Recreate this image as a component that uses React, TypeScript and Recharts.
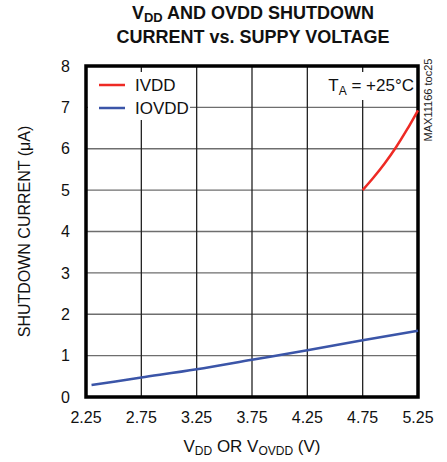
import React from "react";
import {
  LineChart,
  Line,
  XAxis,
  YAxis,
  CartesianGrid,
  ReferenceArea,
  Legend,
  Label,
} from "recharts";

// supply voltage (V) and shutdown current (uA)
const ivddVolts = [4.75, 4.85, 4.95, 5.05, 5.15, 5.25];
const ivddCurrent = [5.0, 5.31, 5.65, 6.03, 6.46, 6.93];

const iovddVolts = [2.3, 2.75, 3.25, 3.75, 4.25, 4.75, 5.25];
const iovddCurrent = [0.29, 0.47, 0.67, 0.9, 1.13, 1.37, 1.6];

const xTicks = [2.25, 2.75, 3.25, 3.75, 4.25, 4.75, 5.25];
const yTicks = [0, 1, 2, 3, 4, 5, 6, 7, 8];

const FONT = "'Liberation Sans', Arial, sans-serif";
const RED = "#ee2a24";
const BLUE = "#3b55a8";

const ivddData = ivddVolts.map((v, i) => ({ v, i: ivddCurrent[i] }));
const iovddData = iovddVolts.map((v, i) => ({ v, i: iovddCurrent[i] }));

const TICK = { fill: "#111", fontSize: 16, fontFamily: FONT };

function LegendBox() {
  const rows = [
    { name: "IVDD", color: RED },
    { name: "IOVDD", color: BLUE },
  ];
  return (
    <svg width={102} height={48}>
      {rows.map((r, k) => (
        <g key={r.name}>
          <line x1={11} x2={37} y1={13 + k * 23} y2={13 + k * 23} stroke={r.color} strokeWidth={2.5} />
          <text x={47} y={19 + k * 23} fontSize={17} fontFamily={FONT} fill="#111">
            {r.name}
          </text>
        </g>
      ))}
    </svg>
  );
}

function XLabel({ viewBox }: any) {
  const cx = viewBox.x + viewBox.width / 2;
  return (
    <text x={cx} y={452} textAnchor="middle" fontSize={17} fontFamily={FONT} fill="#111">
      V<tspan fontSize={12} dy={3}>DD</tspan>
      <tspan dy={-3}> OR V</tspan>
      <tspan fontSize={12} dy={3}>OVDD</tspan>
      <tspan dy={-3}> (V)</tspan>
    </text>
  );
}

function YLabel({ viewBox }: any) {
  const cy = viewBox.y + viewBox.height / 2;
  return (
    <text
      x={30}
      y={cy}
      transform={`rotate(-90, 30, ${cy})`}
      textAnchor="middle"
      fontSize={16}
      fontFamily={FONT}
      fill="#111"
    >
      SHUTDOWN CURRENT (μA)
    </text>
  );
}

const subStyle: React.CSSProperties = { fontSize: 13, lineHeight: 0, position: "relative", top: 3, verticalAlign: "baseline" };

export default function App() {
  return (
    <div style={{ position: "absolute", left: 0, top: 0, width: 447, height: 462, background: "#fff", fontFamily: FONT }}>
      <div
        style={{
          position: "absolute",
          left: 0,
          top: 1,
          width: 506,
          textAlign: "center",
          fontWeight: "bold",
          fontSize: 18,
          lineHeight: "24px",
          color: "#111",
        }}
      >
        <div>
          V<span style={subStyle}>DD</span> AND OVDD SHUTDOWN
        </div>
        <div>CURRENT vs. SUPPY VOLTAGE</div>
      </div>

      <LineChart width={447} height={462} margin={{ top: 66, right: 29, bottom: 0, left: 0 }}>
        <CartesianGrid vertical={false} stroke="#6e6e6e" strokeWidth={1.3} />
        <CartesianGrid horizontal={false} stroke="#222" strokeWidth={1.3} />
        <XAxis
          type="number"
          dataKey="v"
          domain={[2.25, 5.25]}
          ticks={xTicks}
          tickFormatter={(t: number) => t.toFixed(2)}
          tick={TICK}
          tickLine={false}
          axisLine={false}
          tickMargin={9}
          height={65}
          allowDuplicatedCategory={false}
        >
          <Label content={<XLabel />} />
        </XAxis>
        <YAxis
          type="number"
          domain={[0, 8]}
          ticks={yTicks}
          tick={TICK}
          tickLine={false}
          axisLine={false}
          tickMargin={10}
          width={86}
        >
          <Label content={<YLabel />} />
        </YAxis>
        <Legend
          layout="horizontal"
          verticalAlign="middle"
          align="center"
          content={() => <LegendBox />}
          wrapperStyle={{ left: 88, top: 72, width: 102, height: 48, background: "#fff" }}
        />
        <Line
          data={iovddData}
          dataKey="i"
          type="monotone"
          stroke={BLUE}
          strokeWidth={2.5}
          dot={false}
          isAnimationActive={false}
        />
        <Line
          data={ivddData}
          dataKey="i"
          type="monotone"
          stroke={RED}
          strokeWidth={2.5}
          dot={false}
          isAnimationActive={false}
        />
        <ReferenceArea
          x1={2.25}
          x2={5.25}
          y1={0}
          y2={8}
          fill="none"
          stroke="#000"
          strokeWidth={3.5}
          ifOverflow="visible"
        />
      </LineChart>

      <div
        style={{
          position: "absolute",
          left: 328,
          top: 72,
          width: 88,
          height: 28,
          background: "#fff",
          fontSize: 17,
          lineHeight: "28px",
          color: "#111",
          textAlign: "right",
          paddingRight: 2,
          boxSizing: "border-box",
        }}
      >
        T<span style={{ fontSize: 12, lineHeight: 0, position: "relative", top: 4 }}>A</span> = +25°C
      </div>

      <div
        style={{
          position: "absolute",
          left: 428,
          top: 100,
          transform: "translate(-50%, -50%) rotate(-90deg)",
          fontSize: 11,
          whiteSpace: "nowrap",
          color: "#222",
        }}
      >
        MAX11166 toc25
      </div>
    </div>
  );
}
